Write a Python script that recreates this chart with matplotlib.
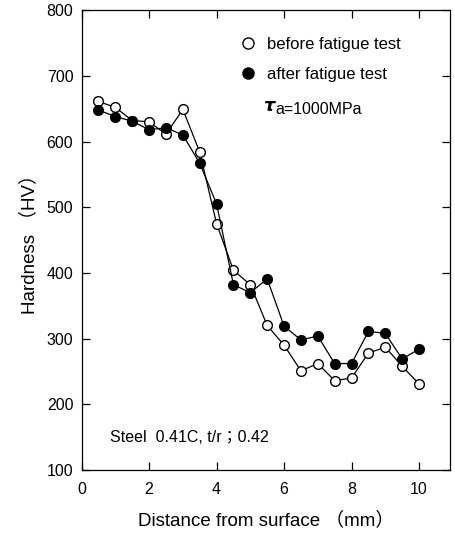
import matplotlib
matplotlib.use('Agg')
import matplotlib.pyplot as plt
from matplotlib.lines import Line2D

plt.rcParams['font.family'] = ['Liberation Sans', 'Noto Sans CJK JP', 'DejaVu Sans']

# hardness profile
distance = [0.5, 1.0, 1.5, 2.0, 2.5, 3.0, 3.5, 4.0, 4.5, 5.0,
            5.5, 6.0, 6.5, 7.0, 7.5, 8.0, 8.5, 9.0, 9.5, 10.0]
hv_before = [661, 652, 632, 630, 611, 649, 584, 475, 404, 382,
             320, 290, 251, 262, 236, 240, 278, 287, 258, 231]
hv_after = [648, 638, 631, 618, 621, 610, 567, 505, 382, 370,
            391, 319, 298, 304, 262, 262, 311, 308, 269, 284]
x_ticks = [0, 2, 4, 6, 8, 10]
y_ticks = [100, 200, 300, 400, 500, 600, 700, 800]

fig = plt.figure(figsize=(4.56, 5.35), dpi=100)
ax = fig.add_axes([0.179, 0.1215, 0.808, 0.8595])

ax.plot(distance, hv_before, '-o', color='black', lw=0.9, ms=7,
        mfc='white', mec='black', mew=1.0, zorder=2)
ax.plot(distance, hv_after, '-o', color='black', lw=0.9, ms=7,
        mfc='black', mec='black', zorder=3)

ax.set_xlim(0, 10.92)
ax.set_ylim(100, 800)
ax.set_xticks(x_ticks)
ax.set_yticks(y_ticks)
ax.tick_params(direction='in', length=6, width=0.9, labelsize=11.5,
               top=True, right=True)
ax.tick_params(axis='x', pad=9)
ax.tick_params(axis='y', pad=6)
for s in ax.spines.values():
    s.set_linewidth(0.9)

ax.set_xlabel('Distance from surface （mm）', fontsize=13.5, labelpad=10)
ax.set_ylabel('Hardness （HV）', fontsize=13.5, labelpad=6)

handles = [
    Line2D([], [], ls='none', marker='o', ms=8, mfc='white', mec='black', mew=1.0),
    Line2D([], [], ls='none', marker='o', ms=8, mfc='black', mec='black'),
]
ax.legend(handles, ['before fatigue test', 'after fatigue test'],
          loc='upper left', bbox_to_anchor=(0.389, 0.975), frameon=False,
          fontsize=12, handlelength=1.0, handletextpad=0.6, labelspacing=0.91)

ax.text(0.4925, 0.791, r'$\boldsymbol{\tau}$', transform=ax.transAxes,
        fontsize=13, va='center', ha='left')
ax.text(0.527, 0.783, 'a=1000MPa', transform=ax.transAxes,
        fontsize=11.5, va='center', ha='left')

ax.text(0.077, 0.07, 'Steel  0.41C, t/r；0.42', transform=ax.transAxes,
        fontsize=11.5, va='center', ha='left')

fig.savefig('out.png', dpi=100)
